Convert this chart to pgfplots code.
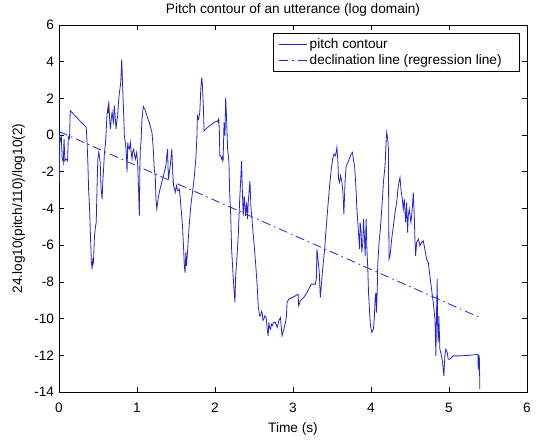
\documentclass[border=0pt]{standalone}
\usepackage{fontspec}
\setmainfont{Liberation Sans}
\usepackage{pgfplots}
\pgfplotsset{compat=1.18}
\definecolor{pitchblue}{RGB}{35,35,210}
\newcommand{\chartfont}{\fontsize{13.7}{16}\selectfont}

\begin{document}
\begin{tikzpicture}
\begin{axis}[
  scale only axis,
  width=468bp, height=367bp,
  xmin=0, xmax=6, ymin=-14, ymax=6,
  xtick={0,1,...,6}, ytick={-14,-12,...,6},
  tick align=inside, major tick length=5bp,
  axis line style={line width=0.8bp},
  every tick/.style={black, line width=0.8bp},
  /pgf/number format/assume math mode=true,
  tick label style={font=\chartfont},
  xticklabel style={anchor=base, yshift=-20bp},
  yticklabel style={xshift=-1.5bp},
  every axis title shift=0pt,
  title={Pitch contour of an utterance (log domain)},
  title style={at={(0.5,1)}, anchor=base, yshift=11bp, font=\chartfont},
  xlabel={Time (s)},
  xlabel style={at={(0.5,-0.109)}, anchor=base, font=\chartfont},
  ylabel={24.log10(pitch/110)/log10(2)},
  ylabel style={at={(-0.079,0.5)}, anchor=base, font=\chartfont},
  legend style={at={(1,1)}, anchor=north east, xshift=-7bp, yshift=-8bp,
    draw=black, line width=0.8bp, font=\chartfont, cells={anchor=west},
    inner xsep=5bp, inner ysep=3.5bp, row sep=0bp},
  legend image code/.code={\draw[#1] (0bp,0bp) -- (28bp,0bp);},
]
% pitch contour
\addplot[pitchblue, line width=0.8bp] coordinates {
(0.000,0.15) (0.005,-2.58) (0.010,-0.10) (0.020,-0.30) (0.030,-0.10) (0.040,-1.20)
(0.055,-1.50) (0.065,-0.20) (0.075,-1.40) (0.090,-1.30) (0.110,-1.40) (0.120,-0.10)
(0.135,-0.20) (0.144,1.33) (0.349,0.42) (0.360,-0.40) (0.370,-1.49) (0.380,-3.00)
(0.391,-3.86) (0.404,-5.58) (0.415,-6.90) (0.425,-7.30) (0.433,-6.80) (0.442,-6.94)
(0.455,-5.49) (0.467,-5.00) (0.477,-4.76) (0.490,-2.50) (0.498,-1.31) (0.510,-0.94)
(0.520,-1.20) (0.528,-1.49) (0.540,-2.94) (0.553,-3.49) (0.561,-2.58) (0.572,-1.80)
(0.583,-0.94) (0.595,-0.50) (0.604,0.15) (0.615,1.10) (0.625,1.42) (0.632,1.20)
(0.638,1.87) (0.647,1.06) (0.653,0.60) (0.660,0.33) (0.670,0.90) (0.681,1.24)
(0.690,0.90) (0.698,0.70) (0.705,1.30) (0.710,1.60) (0.720,1.00) (0.732,0.33)
(0.742,0.80) (0.753,1.06) (0.762,1.78) (0.775,2.33) (0.790,2.80) (0.796,3.23)
(0.804,4.14) (0.810,3.40) (0.817,2.51) (0.830,1.06) (0.838,-0.04) (0.850,-0.40)
(0.859,-0.76) (0.866,-1.20) (0.872,-2.03) (0.878,-1.00) (0.881,-0.40) (0.890,-0.70)
(0.902,-0.76) (0.908,-0.60) (0.915,-0.40) (0.925,-0.90) (0.936,-1.31) (0.945,-0.90)
(0.958,-0.76) (0.968,-1.10) (0.979,-1.31) (0.988,-1.10) (0.996,-0.94) (1.010,-1.67)
(1.021,-3.12) (1.030,-4.40) (1.036,-2.00) (1.043,-0.76) (1.051,-0.40) (1.064,0.87)
(1.081,1.56) (1.100,1.40) (1.115,1.23) (1.135,0.95) (1.158,0.69) (1.175,0.40)
(1.192,0.14) (1.209,-0.76) (1.221,-1.85) (1.234,-2.22) (1.243,-3.49) (1.255,-4.03)
(1.266,-3.60) (1.277,-3.31) (1.292,-3.00) (1.307,-2.76) (1.328,-2.40) (1.350,-2.03)
(1.370,-1.67) (1.380,-1.20) (1.392,-0.76) (1.398,-1.80) (1.405,-2.40) (1.415,-2.00)
(1.426,-1.67) (1.437,-1.20) (1.447,-0.76) (1.456,-1.85) (1.468,-2.76) (1.480,-2.90)
(1.490,-3.12) (1.500,-2.90) (1.507,-2.76) (1.518,-3.00) (1.528,-3.03) (1.541,-2.94)
(1.552,-3.30) (1.562,-3.85) (1.573,-4.40) (1.583,-4.94) (1.596,-6.03) (1.605,-6.94)
(1.611,-7.30) (1.617,-7.49) (1.626,-6.39) (1.630,-6.90) (1.634,-7.12) (1.647,-6.39)
(1.660,-5.49) (1.675,-4.60) (1.690,-3.85) (1.711,-3.12) (1.732,-2.40) (1.754,-1.31)
(1.767,-0.22) (1.775,1.05) (1.788,0.87) (1.805,1.23) (1.818,2.51) (1.830,3.14)
(1.839,2.69) (1.852,1.42) (1.860,0.23) (1.903,0.42) (1.945,0.54) (1.988,0.69)
(2.030,0.78) (2.043,0.69) (2.048,0.95) (2.056,0.20) (2.062,-1.12) (2.073,-1.12)
(2.086,-1.31) (2.095,-1.20) (2.103,-1.49) (2.116,0.69) (2.128,-0.04) (2.137,2.05)
(2.150,0.69) (2.162,-0.76) (2.179,-1.49) (2.188,-3.12) (2.200,-4.22) (2.213,-6.21)
(2.230,-7.49) (2.243,-8.39) (2.256,-9.12) (2.265,-7.67) (2.277,-6.94) (2.298,-5.49)
(2.315,-3.67) (2.328,-2.58) (2.341,-1.40) (2.350,-2.94) (2.362,-4.40) (2.375,-3.31)
(2.392,-4.40) (2.405,-3.67) (2.418,-4.58) (2.426,-3.67) (2.448,-2.49) (2.460,-3.85)
(2.477,-4.76) (2.499,-5.85) (2.520,-6.94) (2.541,-8.21) (2.554,-9.30) (2.571,-9.85)
(2.584,-9.85) (2.595,-9.60) (2.605,-9.67) (2.615,-10.10) (2.626,-10.03) (2.639,-9.85)
(2.656,-9.94) (2.669,-10.58) (2.682,-10.94) (2.690,-10.21) (2.700,-10.50) (2.712,-10.58)
(2.722,-10.30) (2.733,-10.39) (2.754,-10.21) (2.775,-10.21) (2.797,-10.48) (2.818,-10.12)
(2.839,-9.94) (2.852,-10.58) (2.860,-10.94) (2.882,-10.58) (2.903,-10.21) (2.916,-9.85)
(2.924,-9.12) (2.946,-8.94) (2.988,-8.85) (3.031,-8.76) (3.050,-8.70) (3.065,-8.67)
(3.073,-9.30) (3.094,-9.03) (3.137,-8.85) (3.180,-8.58) (3.222,-8.21) (3.235,-8.12)
(3.265,-8.12) (3.286,-8.12) (3.299,-7.85) (3.307,-6.21) (3.320,-6.76) (3.337,-7.49)
(3.350,-8.85) (3.363,-8.21) (3.380,-7.30) (3.406,-6.21) (3.427,-4.94) (3.448,-3.85)
(3.469,-2.76) (3.491,-1.85) (3.508,-1.31) (3.525,-1.03) (3.542,-1.13) (3.555,-0.90)
(3.563,-0.67) (3.576,-1.49) (3.584,-2.40) (3.597,-2.58) (3.610,-2.22) (3.627,-2.58)
(3.640,-3.12) (3.652,-4.31) (3.661,-3.31) (3.669,-2.40) (3.682,-1.67) (3.704,-1.49)
(3.721,-1.31) (3.746,-1.03) (3.763,-0.94) (3.776,-1.40) (3.789,-1.67) (3.806,-2.76)
(3.819,-4.03) (3.840,-5.31) (3.853,-6.21) (3.861,-4.76) (3.874,-5.31) (3.882,-6.39)
(3.895,-5.85) (3.904,-4.58) (3.917,-5.67) (3.925,-6.58) (3.938,-4.58) (3.946,-6.03)
(3.959,-7.30) (3.968,-8.58) (3.980,-9.49) (3.993,-10.39) (4.010,-10.75) (4.031,-10.57)
(4.044,-9.85) (4.052,-8.94) (4.062,-8.58) (4.070,-9.67) (4.080,-8.50) (4.086,-7.12)
(4.103,-5.85) (4.116,-5.31) (4.129,-4.58) (4.146,-3.49) (4.159,-2.58) (4.180,-1.67)
(4.193,-0.40) (4.201,0.14) (4.214,-0.22) (4.223,-0.76) (4.227,-4.03) (4.231,-6.76)
(4.244,-6.58) (4.265,-5.67) (4.287,-4.94) (4.308,-4.22) (4.329,-3.67) (4.350,-2.76)
(4.372,-2.31) (4.384,-2.94) (4.401,-3.49) (4.414,-4.03) (4.427,-3.49) (4.444,-4.76)
(4.457,-3.67) (4.469,-5.31) (4.478,-4.40) (4.491,-4.03) (4.512,-4.76) (4.529,-4.03)
(4.542,-3.12) (4.555,-4.40) (4.563,-5.67) (4.572,-6.58) (4.585,-5.85) (4.606,-5.67)
(4.627,-6.03) (4.648,-5.85) (4.670,-5.76) (4.690,-6.21) (4.712,-6.76) (4.734,-6.94)
(4.755,-7.67) (4.776,-8.39) (4.798,-9.12) (4.820,-10.03) (4.832,-12.03) (4.840,-9.67)
(4.849,-7.85) (4.853,-10.21) (4.862,-11.30) (4.870,-9.85) (4.883,-11.66) (4.904,-12.03)
(4.917,-12.39) (4.934,-13.12) (4.947,-12.03) (4.960,-11.66) (4.977,-11.84) (4.990,-12.21)
(5.011,-12.21) (5.032,-12.12) (5.053,-12.03) (5.138,-12.03) (5.266,-12.00) (5.351,-11.96)
(5.370,-11.95) (5.375,-12.80) (5.385,-12.00) (5.390,-12.20) (5.395,-13.84)
};
\addlegendentry{pitch contour}
\addplot[pitchblue, line width=0.8bp, dash pattern=on 9bp off 4bp on 1.5bp off 4bp]
  coordinates {(0,0.2) (5.4,-9.95)};
\addlegendentry{declination line (regression line)\rule{11bp}{0pt}}
\end{axis}
\pgfresetboundingbox
\path[use as bounding box] ([xshift=-59bp,yshift=-49bp]current axis.south west)
  rectangle ([xshift=15bp,yshift=25bp]current axis.north east);
\end{tikzpicture}
\end{document}
